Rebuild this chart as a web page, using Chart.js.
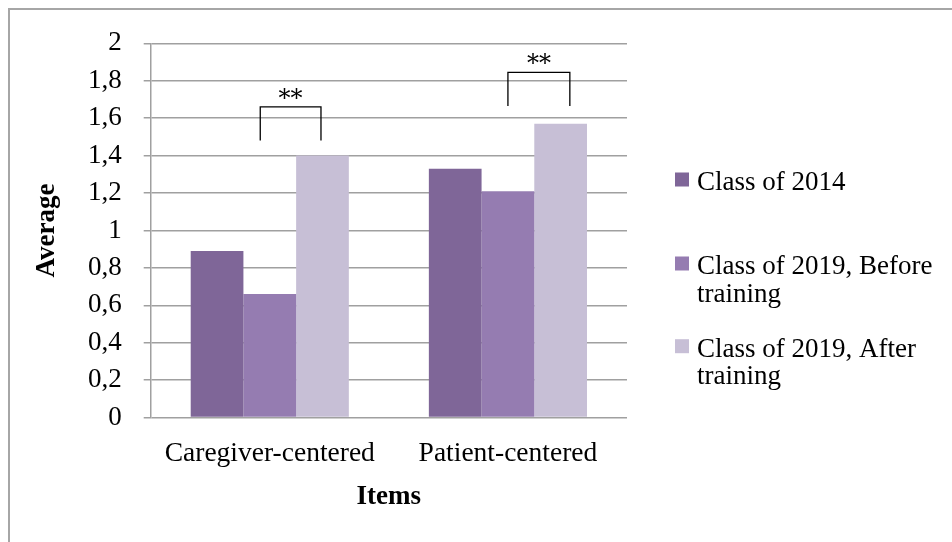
<!DOCTYPE html>
<html>
<head>
<meta charset="utf-8">
<script src="https://cdn.jsdelivr.net/npm/chart.js@4"></script>
<style>
body { margin: 0; background: #fff; }
canvas { display: block; }
</style>
</head>
<body>
<canvas id="myChart" width="952" height="542"></canvas>
<script>
var categories = ['Caregiver-centered', 'Patient-centered'];
var seriesNames = [['Class of 2014'], ['Class of 2019, Before', 'training'], ['Class of 2019, After', 'training']];
var class2014 = [0.89, 1.33];
var class2019Before = [0.66, 1.21];
var class2019After = [1.40, 1.57];
var yTickLabels = ['0', '0,2', '0,4', '0,6', '0,8', '1', '1,2', '1,4', '1,6', '1,8', '2'];

// significance brackets (x in category units, y in axis units)
var sigLabels = ['**', '**'];
var sigFrom = [-0.04, 1.0];
var sigTo = [0.215, 1.26];
var sigLow = [1.48, 1.665];
var sigHigh = [1.66, 1.845];

var colors = ['#7f6698', '#957cb1', '#c7bfd6'];
var serif = 'Liberation Serif';

var extras = {
    id: 'extras',
    beforeDraw: function(chart) {
        var c = chart.ctx;
        c.save();
        c.strokeStyle = '#a6a6a6';
        c.lineWidth = 2;
        c.beginPath();
        c.moveTo(9, 542);
        c.lineTo(9, 9);
        c.lineTo(952, 9);
        c.stroke();
        c.restore();
    },
    afterDraw: function(chart) {
        var c = chart.ctx;
        var xs = chart.scales.x, ys = chart.scales.y;
        c.save();
        // brackets
        c.strokeStyle = '#000';
        c.lineWidth = 1.3;
        c.fillStyle = '#000';
        c.font = '24px "DejaVu Serif"';
        c.textAlign = 'center';
        c.textBaseline = 'alphabetic';
        for (var i = 0; i < sigLabels.length; i++) {
            var x1 = xs.getPixelForValue(sigFrom[i]);
            var x2 = xs.getPixelForValue(sigTo[i]);
            var yl = ys.getPixelForValue(sigLow[i]);
            var yh = ys.getPixelForValue(sigHigh[i]);
            c.beginPath();
            c.moveTo(x1, yl);
            c.lineTo(x1, yh);
            c.lineTo(x2, yh);
            c.lineTo(x2, yl);
            c.stroke();
            c.fillText(sigLabels[i], (x1 + x2) / 2, yh - 1);
        }
        // legend
        var baselines = [190, 274, 356.7];
        c.font = '27px "' + serif + '"';
        c.textAlign = 'left';
        for (var k = 0; k < seriesNames.length; k++) {
            c.fillStyle = colors[k];
            c.fillRect(675, baselines[k] - 17.5, 14, 14);
            c.fillStyle = '#000';
            for (var j = 0; j < seriesNames[k].length; j++) {
                c.fillText(seriesNames[k][j], 697, baselines[k] + j * 27.5);
            }
        }
        c.restore();
    }
};

var ctx = document.getElementById('myChart').getContext('2d');
var myChart = new Chart(ctx, {
    type: 'bar',
    data: {
        labels: categories,
        datasets: [
            { label: seriesNames[0].join(' '), data: class2014, backgroundColor: colors[0] },
            { label: seriesNames[1].join(' '), data: class2019Before, backgroundColor: colors[1] },
            { label: seriesNames[2].join(' '), data: class2019After, backgroundColor: colors[2] }
        ]
    },
    options: {
        responsive: false,
        animation: false,
        barPercentage: 1,
        categoryPercentage: 0.664,
        layout: { padding: { left: 26.5, top: 43.3, right: 325, bottom: 27.6 } },
        plugins: {
            legend: { display: false },
            tooltip: { enabled: false }
        },
        scales: {
            x: {
                grid: { display: false, drawTicks: false },
                border: { display: false },
                ticks: { font: { family: serif, size: 27.5 }, color: '#000', padding: 20 },
                title: { display: true, text: 'Items', color: '#000', font: { family: serif, size: 27, weight: 'bold' }, padding: { top: 8, bottom: 1 } },
                afterFit: function(s) { s.height = 96.8; }
            },
            y: {
                min: 0,
                max: 2,
                ticks: {
                    stepSize: 0.2,
                    font: { family: serif, size: 27 },
                    color: '#000',
                    padding: 22,
                    callback: function(v, i) { return yTickLabels[i]; }
                },
                grid: { color: '#a0a0a0', lineWidth: 1.5, tickLength: 7 },
                border: { color: '#a0a0a0', width: 1.5 },
                title: { display: true, text: 'Average', color: '#000', font: { family: serif, size: 27, weight: 'bold' }, padding: { top: 4, bottom: 4 } },
                afterFit: function(s) { s.width = 124.2; }
            }
        }
    },
    plugins: [extras]
});
</script>
</body>
</html>
